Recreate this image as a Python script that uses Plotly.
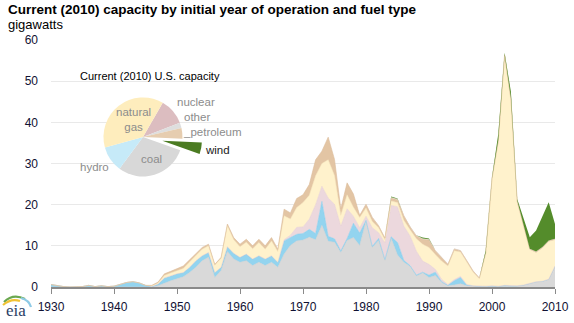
import plotly.graph_objects as go

# capacity in service in 2010, by initial year of operation (GW)
years = list(range(1930, 2011))

coal = [0, 0, 0, 0, 0, 0, 0, 0, 0, 0,
        0, 0, 0, 0, 0, 0, 0, 0.3, 1.0, 1.5,
        2.0, 2.5, 3.5, 4.8, 6.4, 7.2, 2.3, 4.0, 8.6, 6.8,
        6.0, 6.4, 5.2, 6.0, 5.2, 6.0, 4.8, 8.0, 10.1, 11.2,
        11.4, 12.1, 11.5, 15.0, 11.1, 10.9, 8.4, 11.3, 12.0, 10.1,
        16.0, 9.6, 11.3, 6.5, 11.8, 7.8, 6.0, 5.0, 2.7, 3.4,
        2.3, 2.8, 1.1, 0.3, 0.5, 0.8, 0.3, 0.2, 0.1, 0.1,
        0.1, 0.1, 0.2, 0.2, 0.2, 0.4, 0.8, 1.2, 1.3, 1.8,
        5.0]
hydro = [0.6, 0.3, 0.1, 0, 0, 0.1, 0.4, 0.1, 0.3, 0.1,
         0.2, 0.6, 1.1, 1.3, 1.0, 0.4, 0.1, 0.4, 1.2, 1.2,
         1.2, 1.0, 1.3, 1.6, 1.2, 1.2, 1.2, 0.8, 1.2, 1.4,
         1.2, 1.6, 1.6, 1.6, 1.6, 1.6, 1.2, 3.2, 2.0, 1.6,
         1.6, 1.9, 1.5, 5.8, 1.2, 0.8, 0.4, 0.5, 3.5, 3.0,
         0.2, 0.3, 0.5, 0.2, 0.4, 3.0, 0.5, 0.2, 0.2, 0.2,
         0.6, 0.8, 0.2, 0.1, 1.0, 1.5, 0.2, 0.1, 0.1, 0.1,
         0.2, 0.1, 0.2, 0.1, 0.1, 0.1, 0.1, 0.1, 0.1, 0.1,
         0.1]
nuclear = [0] * 37 + [
           0.3, 0.5, 1.7,
           1.6, 2.5, 7.0, 3.7, 9.3, 8.4, 6.0, 7.2, 1.7, 1.3,
           1.0, 4.5, 1.4, 4.0, 7.6, 8.7, 8.3, 7.2, 5.8, 2.7,
           2.6, 0.7, 0.6, 0.2, 0.3, 0.3, 0.1, 0, 0, 0,
           0, 0, 0, 0, 0, 0, 0, 0, 0, 0,
           0]
natural_gas = [0, 0, 0, 0, 0, 0, 0, 0, 0, 0,
               0, 0, 0, 0, 0, 0, 0.2, 0.3, 0.6, 0.7,
               0.8, 1.0, 1.3, 1.2, 1.6, 1.6, 1.8, 2.2, 5.1, 3.3,
               2.6, 2.9, 2.5, 3.2, 2.4, 3.6, 2.6, 5.8, 3.9, 4.8,
               5.9, 5.8, 7.0, 5.5, 9.3, 7.0, 2.6, 3.4, 2.2, 2.5,
               2.0, 1.5, 1.2, 0.8, 1.1, 1.0, 1.4, 1.5, 3.0, 4.1,
               4.1, 3.6, 4.4, 4.5, 7.0, 5.9, 5.5, 3.3, 1.8, 7.9,
               25.8, 35.0, 55.6, 45.0, 20.3, 14.2, 8.2, 7.1, 8.1, 9.2,
               6.4]
petroleum = [0, 0, 0, 0, 0, 0, 0, 0, 0, 0,
             0, 0, 0, 0, 0, 0, 0.1, 0.2, 0.4, 0.4,
             0.5, 0.6, 0.5, 0.4, 0.4, 0.4, 0.2, 0.2, 0.4, 0.5,
             0.6, 0.7, 0.7, 0.8, 0.8, 0.8, 0.6, 1.6, 1.5, 2.2,
             1.9, 2.6, 3.9, 3.0, 5.5, 3.9, 1.6, 2.9, 3.2, 0.5,
             0.9, 1.0, 0.5, 0.4, 0.7, 0.7, 1.1, 0.7, 0.7, 1.2,
             1.8, 0.9, 0.8, 0.4, 0.4, 0.3, 0.3, 0.3, 0.2, 0.2,
             0.3, 0.4, 0.4, 0.5, 0.3, 0.2, 0.1, 0.1, 0.1, 0.1,
             0.1]
other = [0] * 50 + [
         0.1, 0.1, 0.1, 0.1, 0.2, 0.2, 0.2, 0.2, 0.2, 0.2,
         0.2, 0.2, 0.2, 0.2, 0.2, 0.2, 0.1, 0.1, 0.1, 0.1,
         0.1, 0.1, 0.1, 0.1, 0.1, 0.1, 0.1, 0.1, 0.1, 0.1,
         0.1]
wind = [0] * 54 + [
        0.2, 0.1, 0, 0, 0, 0.2,
        0.2, 0, 0, 0, 0, 0, 0, 0, 0, 0.5,
        0.2, 1.5, 0.4, 1.5, 0.4, 2.0, 2.8, 5.1, 7.3, 9.3,
        3.6]

# 2010 U.S. capacity shares (percent), clockwise from nuclear
pie_labels = ["nuclear", "other", "petroleum", "wind", "coal", "hydro", "natural gas"]
pie_share = [10.8, 2.2, 4.4, 4.7, 29.7, 10.6, 37.6]

x_ticks = [1930, 1940, 1950, 1960, 1970, 1980, 1990, 2000, 2010]

FONT = "Liberation Sans, Arial, sans-serif"
W, H = 574, 323
L, R, T, B = 51, 19, 40, 36


def px(x):
    return (x - L) / (W - L - R)


def py(y):
    return (H - B - y) / (H - T - B)


# name, values, fill, edge colour, edge width
series = [
    ("coal", coal, "#d9d9d9", "#cdcdcd", 0.5),
    ("hydro", hydro, "#93d4ef", "#7fcaec", 0.5),
    ("nuclear", nuclear, "#ecd8dd", "#e2cad0", 0.5),
    ("natural gas", natural_gas, "#fff2cc", "#f5e2b2", 0.5),
    ("petroleum", petroleum, "#e3c5a4", "#dcbc9a", 0.6),
    ("other", other, "#e6e1dc", "#e6e1dc", 0),
    ("wind", wind, "#548c2b", "#548c2b", 0),
]

fig = go.Figure()
for name, vals, fill, edge, lw in series:
    fig.add_trace(go.Scatter(
        x=years, y=vals, name=name, mode="lines",
        stackgroup="cap", fillcolor=fill,
        line=dict(color=edge, width=lw),
        hoverinfo="x+y+name"))

pie_colors = ["#dcbdc0", "#dedede", "#e6cdb0", "#4b7b22", "#d8d8d8", "#c6eaf8", "#feedbd"]
pull = [0.5 if lab == "wind" else 0 for lab in pie_labels]
pc_x, pc_y, pr = 143, 137, 39.5
box = pr * (1 + max(pull))
fig.add_trace(go.Pie(
    labels=pie_labels, values=pie_share, sort=False, direction="clockwise",
    rotation=30, pull=pull, textinfo="none", showlegend=False,
    marker=dict(colors=pie_colors, line=dict(width=0)),
    domain=dict(x=[px(pc_x - box), px(pc_x + box)], y=[py(pc_y + box), py(pc_y - box)])))

annotations = [
    dict(text="<b>Current (2010) capacity by initial year of operation and fuel type</b>",
         x=px(7), y=py(10), xanchor="left", yanchor="middle",
         font=dict(size=13.5, color="#000000")),
    dict(text="gigawatts", x=px(7), y=py(25), xanchor="left", yanchor="middle",
         font=dict(size=13, color="#000000")),
    dict(text="Current (2010) U.S. capacity", x=px(79), y=py(76), xanchor="left",
         yanchor="middle", font=dict(size=11, color="#000000")),
    dict(text="natural<br>gas", x=px(133), y=py(119), xanchor="center", yanchor="middle",
         font=dict(size=11.5, color="#8c8c8c")),
    dict(text="nuclear", x=px(196), y=py(102), xanchor="center", yanchor="middle",
         font=dict(size=11.5, color="#8c8c8c")),
    dict(text="other", x=px(197), y=py(117), xanchor="center", yanchor="middle",
         font=dict(size=11.5, color="#8c8c8c")),
    dict(text="_petroleum", x=px(182), y=py(132), xanchor="left", yanchor="middle",
         font=dict(size=11.5, color="#8c8c8c")),
    dict(text="wind", x=px(204), y=py(150), xanchor="left", yanchor="middle",
         font=dict(size=11.5, color="#1a1a1a")),
    dict(text="coal", x=px(151), y=py(159), xanchor="center", yanchor="middle",
         font=dict(size=11.5, color="#8c8c8c")),
    dict(text="hydro", x=px(94), y=py(167), xanchor="center", yanchor="middle",
         font=dict(size=11.5, color="#8c8c8c")),
    dict(text="eia", x=px(16), y=py(310), xanchor="center", yanchor="middle",
         font=dict(size=17, color="#2c3e66", family="Liberation Serif, DejaVu Serif, serif")),
]
for a in annotations:
    a.update(xref="paper", yref="paper", showarrow=False, borderpad=0)
    a["font"].setdefault("family", FONT)


def arc(p0, c, p1, color):
    return dict(type="path", xref="paper", yref="paper",
                path="M %f,%f Q %f,%f %f,%f" % (px(p0[0]), py(p0[1]), px(c[0]), py(c[1]),
                                                 px(p1[0]), py(p1[1])),
                line=dict(color=color, width=2.2))


shapes = [
    arc((4, 302), (13, 293), (25, 299), "#6aa84f"),
    arc((3, 305), (11, 298), (20, 301), "#f1c232"),
    arc((21, 298), (29, 300), (31, 307), "#8ecae6"),
]

fig.update_layout(
    width=W, height=H,
    margin=dict(l=L, r=R, t=T, b=B),
    paper_bgcolor="white", plot_bgcolor="white",
    showlegend=False,
    font=dict(family=FONT, size=12, color="#111111"),
    annotations=annotations,
    shapes=shapes,
    xaxis=dict(range=[1930, 2010], tickvals=x_ticks, ticks="outside", ticklen=5,
               tickcolor="#8a8a8a", showline=True, linecolor="#8a8a8a", linewidth=1.5,
               showgrid=False, zeroline=False, tickfont=dict(size=12, color="#111133"),
               ticklabelstandoff=3, automargin=False),
    yaxis=dict(range=[0, 60], dtick=10, showgrid=True, gridcolor="#e9e9e9", gridwidth=1,
               zeroline=False, showline=False, ticks="",
               tickfont=dict(size=12, color="#111133"), ticklabelstandoff=12,
               automargin=False),
)

# drop the browser's default 8px page margin so the figure sits at the window corner
fig.write_html("out.html", config={"displayModeBar": False},
               post_script="document.body.style.margin='0';")
